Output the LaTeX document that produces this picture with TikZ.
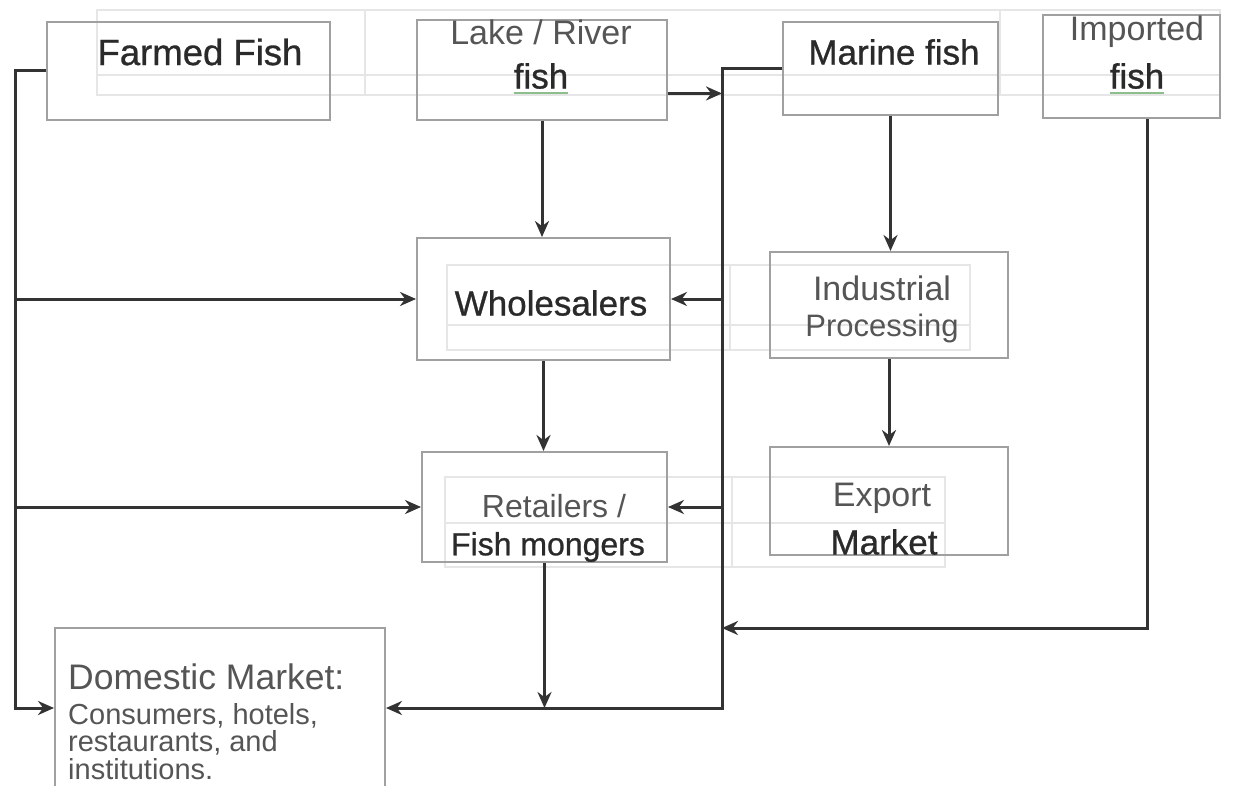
\documentclass[tikz,border=0pt]{standalone}
\usepackage{fontspec}
\setmainfont{Liberation Sans}
\newfontfamily\heavyfont[FakeBold=0.8]{Liberation Sans}
\usetikzlibrary{arrows.meta,calc}
\definecolor{ink}{HTML}{333333}
\definecolor{boxc}{HTML}{A0A0A0}
\definecolor{faintc}{HTML}{E6E6E6}
\definecolor{txt}{HTML}{2A2A2A}
\definecolor{txtl}{HTML}{555555}
\definecolor{spell}{HTML}{8DBF8D}
\tikzset{
  box/.style={draw=boxc, line width=2pt, rectangle, inner sep=0pt},
  lbl/.style={inner sep=0pt, anchor=center, text=txt, font=\heavyfont\fontsize{35}{40}\selectfont},
  lbll/.style={inner sep=0pt, anchor=center, text=txtl, font=\fontsize{34}{40}\selectfont},
  small/.style={inner sep=0pt, anchor=west, text=txtl, font=\fontsize{29}{29}\selectfont},
  conn/.style={draw=ink, line width=3pt},
  arr/.style={conn, -{Stealth[length=16pt,width=14pt]}},
  faint/.style={draw=faintc, line width=1.5pt},
  squig/.style={draw=spell, line width=1.5pt}
}
\begin{document}
\begin{tikzpicture}[x=1pt,y=-1pt]
\useasboundingbox (0,0) rectangle (1249,786);
\clip (0,0) rectangle (1249,786);
\fill[white] (0,0) rectangle (1249,786);
% faint text-frame remnants
\draw[faint] (97,10) rectangle (1220,95);
\draw[faint] (97,75) -- (1220,75);
\draw[faint] (365,10) -- (365,95);
\draw[faint] (1000,10) -- (1000,95);
\draw[faint] (447,265) rectangle (970,350);
\draw[faint] (447,325) -- (970,325);
\draw[faint] (730,265) -- (730,350);
\draw[faint] (445,477) rectangle (945,567);
\draw[faint] (445,523) -- (945,523);
\draw[faint] (732,477) -- (732,567);
% boxes
\node[box, minimum width=283pt, minimum height=98pt] (ff) at (188.5,71) {};
\node[box, minimum width=250pt, minimum height=100pt] (lr) at (542,70) {};
\node[box, minimum width=215pt, minimum height=93pt] (mf) at (890.5,68.5) {};
\node[box, minimum width=177pt, minimum height=103pt] (imp) at (1131.5,66.5) {};
\node[box, minimum width=253pt, minimum height=122pt] (wh) at (543.5,299) {};
\node[box, minimum width=238pt, minimum height=106pt] (ip) at (889,305) {};
\node[box, minimum width=245pt, minimum height=110pt] (rt) at (544.5,507) {};
\node[box, minimum width=238pt, minimum height=108pt] (ex) at (889,501) {};
\node[box, minimum width=330pt, minimum height=160pt] (dm) at (220,708) {};
% texts
\node[lbl, font=\heavyfont\fontsize{36.5}{40}\selectfont] (tff) at (200,52) {Farmed Fish};
\node[lbll] (tlr1) at (541,32) {Lake / River};
\node[lbl] (tlr2) at (541,76) {fish};
\node[lbl] (tmf) at (894,52) {Marine fish};
\node[lbll] (tim1) at (1137,32) {Imported};
\node[lbl] (tim2) at (1137,76) {fish};
\node[lbl] (twh) at (551,303) {Wholesalers};
\node[lbll] (tip1) at (882,288) {Industrial};
\node[lbll, font=\fontsize{31}{40}\selectfont] (tip2) at (882,328) {Processing};
\node[lbll, font=\fontsize{32}{40}\selectfont] (trt1) at (554,506) {Retailers /};
\node[lbl, font=\heavyfont\fontsize{32}{40}\selectfont] (trt2) at (548,547) {Fish mongers};
\node[lbll] (tex1) at (882,498) {Export};
\node[lbl] (tex2) at (884,542) {Market};
\node[lbll, anchor=west, font=\fontsize{35.5}{40}\selectfont] (tdm) at (68,677) {Domestic Market:};
\node[small] (tdm1) at (68,716) {Consumers, hotels,};
\node[small] (tdm2) at (68,743) {restaurants, and};
\node[small] (tdm3) at (68,769) {institutions.};
% spell-check underlines
\draw[squig] ($(tlr2.south west)+(0,4)$) -- ($(tlr2.south east)+(0,4)$);
\draw[squig] ($(tim2.south west)+(0,4)$) -- ($(tim2.south east)+(0,4)$);
% helper coordinates
\coordinate (lx) at (15,0);
\coordinate (vx) at (722,0);
\coordinate (iy) at (0,628);
\coordinate (lrout) at ($(lr.south east)!0.27!(lr.north east)$);
\coordinate (imout) at ($(imp.south)+(16,0)$);
% connectors
\draw[arr] (ff.west) -- (ff.west -| lx) |- (dm.west);
\draw[arr] (wh.west -| lx) -- (wh.west);
\draw[arr] (rt.west -| lx) -- (rt.west);
\draw[arr] (mf.west) -| (vx |- dm.east) -- (dm.east);
\draw[arr] (lrout) -- (vx |- lrout);
\draw[arr] (vx |- wh.east) -- (wh.east);
\draw[arr] (vx |- rt.east) -- (rt.east);
\draw[arr] (imout) |- (vx |- iy);
\draw[arr] (lr.south) -- (lr.south |- wh.north);
\draw[arr] (wh.south) -- (wh.south |- rt.north);
\draw[arr] (rt.south) -- (rt.south |- dm.east);
\draw[arr] (mf.south) -- (mf.south |- ip.north);
\draw[arr] (ip.south) -- (ip.south |- ex.north);
\end{tikzpicture}
\end{document}
